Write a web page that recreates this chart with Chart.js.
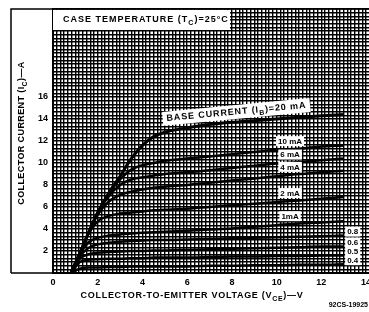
<!DOCTYPE html>
<html>
<head>
<meta charset="utf-8">
<script src="https://cdn.jsdelivr.net/npm/chart.js@4.4.1/dist/chart.umd.min.js"></script>
<style>
  html, body { margin: 0; padding: 0; background: #fff; overflow: hidden; }
  canvas { display: block; }
</style>
</head>
<body>
<canvas id="chart" width="369" height="312"></canvas>
<script>
// collector-to-emitter voltage (V), shared by every curve
const vce  = [0.8, 1.2, 1.6, 2, 2.5, 3, 3.5, 4, 4.5, 5, 6, 7, 8, 9, 10, 11, 12, 13];
// collector current (A) for each base current
const ib20 = [0, 1.8, 3.7, 5.5, 7.3, 8.8, 10.4, 11.6, 12.4, 12.8, 13.2, 13.5, 13.7, 13.85, 14.0, 14.15, 14.3, 14.4];
const ib10 = [0, 1.8, 3.7, 5.5, 7.2, 8.5, 9.4, 9.8, 10.0, 10.2, 10.4, 10.6, 10.8, 11.0, 11.2, 11.3, 11.5, 11.6];
const ib6  = [0, 1.8, 3.7, 5.5, 7.0, 8.0, 8.5, 8.7, 8.85, 9.0, 9.15, 9.35, 9.55, 9.75, 9.95, 10.1, 10.25, 10.4];
const ib4  = [0, 1.8, 3.7, 5.3, 6.5, 7.1, 7.4, 7.6, 7.75, 7.85, 8.0, 8.2, 8.4, 8.6, 8.8, 9.0, 9.15, 9.3];
const ib2  = [0, 1.8, 3.6, 4.7, 5.2, 5.4, 5.5, 5.6, 5.7, 5.75, 5.85, 6.0, 6.15, 6.3, 6.45, 6.6, 6.75, 6.9];
const ib1  = [0, 1.7, 2.8, 3.2, 3.4, 3.5, 3.6, 3.65, 3.7, 3.75, 3.85, 3.95, 4.05, 4.2, 4.35, 4.5, 4.6, 4.7];
const ib08 = [0, 1.5, 2.3, 2.6, 2.75, 2.85, 2.9, 2.95, 3.0, 3.0, 3.05, 3.1, 3.15, 3.2, 3.25, 3.3, 3.35, 3.4];
const ib06 = [0, 1.3, 1.7, 1.85, 1.9, 1.95, 2.0, 2.0, 2.05, 2.05, 2.1, 2.15, 2.2, 2.25, 2.3, 2.35, 2.4, 2.4];
const ib05 = [0, 1.0, 1.2, 1.25, 1.3, 1.3, 1.35, 1.35, 1.4, 1.4, 1.4, 1.45, 1.5, 1.5, 1.55, 1.55, 1.6, 1.6];
const ib04 = [0, 0.4, 0.5, 0.5, 0.55, 0.55, 0.6, 0.6, 0.6, 0.6, 0.6, 0.65, 0.65, 0.7, 0.7, 0.75, 0.75, 0.8];

const seriesNames = ['20 mA', '10 mA', '6 mA', '4 mA', '2 mA', '1mA', '0.8', '0.6', '0.5', '0.4'];
const seriesData = [ib20, ib10, ib6, ib4, ib2, ib1, ib08, ib06, ib05, ib04];

const xTickLabels = [0, 2, 4, 6, 8, 10, 12, 14];
const yTickLabels = [2, 4, 6, 8, 10, 12, 14, 16];

const FONT = '"Liberation Sans", Arial, sans-serif';

function curveAt(arr, v) {
    for (let i = 1; i < vce.length; i++) {
        if (v <= vce[i]) {
            const t = (v - vce[i - 1]) / (vce[i] - vce[i - 1]);
            return arr[i - 1] + t * (arr[i] - arr[i - 1]);
        }
    }
    return arr[arr.length - 1];
}

// text with subscript pieces, drawn from x (left) or centred on x
function richText(ctx, parts, x, y, size, center, spacing) {
    const big = 'bold ' + size + 'px ' + FONT;
    const small = 'bold ' + Math.round(size * 0.75) + 'px ' + FONT;
    ctx.letterSpacing = (spacing || 0) + 'px';
    let w = 0;
    parts.forEach(p => { ctx.font = p.sub ? small : big; w += ctx.measureText(p.t).width; });
    let cx = center ? x - w / 2 : x;
    ctx.textAlign = 'left';
    ctx.textBaseline = 'middle';
    parts.forEach(p => {
        ctx.font = p.sub ? small : big;
        ctx.fillText(p.t, cx, p.sub ? y + size * 0.35 : y);
        cx += ctx.measureText(p.t).width;
    });
    ctx.letterSpacing = '0px';
    return w;
}

function boxedLabel(ctx, text, x, y, size) {
    ctx.font = 'bold ' + size + 'px ' + FONT;
    const w = ctx.measureText(text).width;
    ctx.fillStyle = '#fff';
    ctx.fillRect(x - w / 2 - 2, y - size / 2 - 1, w + 4, size + 2);
    ctx.fillStyle = '#000';
    ctx.textAlign = 'center';
    ctx.textBaseline = 'middle';
    ctx.fillText(text, x, y + 0.5);
}

const annotate = {
    id: 'annotate',
    afterDraw(chart) {
        const {ctx, scales: {x, y}} = chart;
        ctx.save();
        ctx.fillStyle = '#000';
        ctx.strokeStyle = '#000';

        // frame of the left panel and top edge
        ctx.lineWidth = 1.5;
        ctx.beginPath();
        ctx.moveTo(11, 273); ctx.lineTo(11, 9); ctx.lineTo(369, 9);
        ctx.moveTo(11, 273); ctx.lineTo(53, 273);
        ctx.stroke();

        // case temperature box
        ctx.fillStyle = '#fff';
        ctx.fillRect(53, 10, 177, 20);
        ctx.fillStyle = '#000';
        richText(ctx, [{t: 'CASE TEMPERATURE (T'}, {t: 'C', sub: true}, {t: ')=25°C'}], 63, 20, 9, false, 1);

        // base current label along the 20 mA curve
        const v0 = 8.2;
        const px = x.getPixelForValue(v0);
        const py = y.getPixelForValue(curveAt(ib20, v0)) - 10;
        const ang = Math.atan2(
            y.getPixelForValue(curveAt(ib20, 11)) - y.getPixelForValue(curveAt(ib20, 6)),
            x.getPixelForValue(11) - x.getPixelForValue(6));
        ctx.save();
        ctx.translate(px, py);
        ctx.rotate(ang);
        ctx.fillStyle = '#fff';
        ctx.fillRect(-74, -7, 148, 14);
        ctx.fillStyle = '#000';
        richText(ctx, [{t: 'BASE CURRENT (I'}, {t: 'B', sub: true}, {t: ')=20 mA'}], 0, 0, 9, true, 0.9);
        ctx.restore();

        // labels above the middle curves
        for (let i = 1; i <= 5; i++) {
            const lx = x.getPixelForValue(10.6);
            const ly = y.getPixelForValue(curveAt(seriesData[i], 10.6)) - 8;
            boxedLabel(ctx, seriesNames[i], lx, ly, 8);
        }
        // labels at the ends of the low curves
        for (let i = 6; i < seriesData.length; i++) {
            const last = vce.length - 1;
            const lx = x.getPixelForValue(vce[last]) + 9;
            const ly = y.getPixelForValue(seriesData[i][last]) - 4;
            boxedLabel(ctx, seriesNames[i], lx, ly, 8);
        }

        // axis titles
        ctx.save();
        ctx.translate(22, 133);
        ctx.rotate(-Math.PI / 2);
        richText(ctx, [{t: 'COLLECTOR CURRENT (I'}, {t: 'C', sub: true}, {t: ')—A'}], 0, 0, 9, true, 0.4);
        ctx.restore();
        richText(ctx, [{t: 'COLLECTOR-TO-EMITTER VOLTAGE (V'}, {t: 'CE', sub: true}, {t: ')—V'}], 192, 296, 9, true, 0.7);

        ctx.font = 'bold 7px ' + FONT;
        ctx.textAlign = 'right';
        ctx.textBaseline = 'middle';
        ctx.fillText('92CS-19925', 368, 305);
        ctx.restore();
    }
};

document.addEventListener('DOMContentLoaded', function(){
    const ctx = document.getElementById('chart').getContext('2d');
    new Chart(ctx, {
        type: 'line',
        data: {
            datasets: seriesData.map((arr, i) => ({
                label: seriesNames[i],
                data: vce.map((v, j) => ({x: v, y: arr[j]})),
                borderColor: '#000',
                borderWidth: i === 0 ? 3 : 2.5,
                pointRadius: 0,
                fill: false,
                cubicInterpolationMode: 'monotone'
            }))
        },
        options: {
            responsive: false,
            animation: false,
            devicePixelRatio: 1,
            layout: { padding: { top: 9, left: 0, right: 0, bottom: 0 } },
            plugins: { legend: { display: false }, tooltip: { enabled: false } },
            scales: {
                x: {
                    type: 'linear',
                    min: 0,
                    max: 14.13,
                    afterBuildTicks: s => { s.ticks = Array.from({length: 85}, (_, i) => ({value: i / 6})); },
                    afterFit: s => { s.height = 39; s.paddingLeft = 0; s.paddingRight = 0; },
                    grid: { color: '#000', lineWidth: 1.4, drawTicks: false },
                    border: { color: '#000', width: 2 },
                    ticks: {
                        autoSkip: false,
                        maxRotation: 0,
                        padding: 4,
                        color: '#000',
                        font: { family: FONT, weight: 'bold', size: 9 },
                        callback: v => xTickLabels.includes(v) ? String(v) : ''
                    }
                },
                y: {
                    min: 0,
                    max: 24,
                    afterBuildTicks: s => { s.ticks = Array.from({length: 73}, (_, i) => ({value: i / 3})); },
                    afterFit: s => { s.width = 53; s.paddingTop = 0; s.paddingBottom = 0; },
                    grid: { color: '#000', lineWidth: 1.4, drawTicks: false },
                    border: { color: '#000', width: 2 },
                    ticks: {
                        autoSkip: false,
                        padding: 5,
                        color: '#000',
                        font: { family: FONT, weight: 'bold', size: 9 },
                        callback: v => yTickLabels.includes(v) ? String(v) : ''
                    }
                }
            }
        },
        plugins: [annotate]
    });
});
</script>
</body>
</html>
